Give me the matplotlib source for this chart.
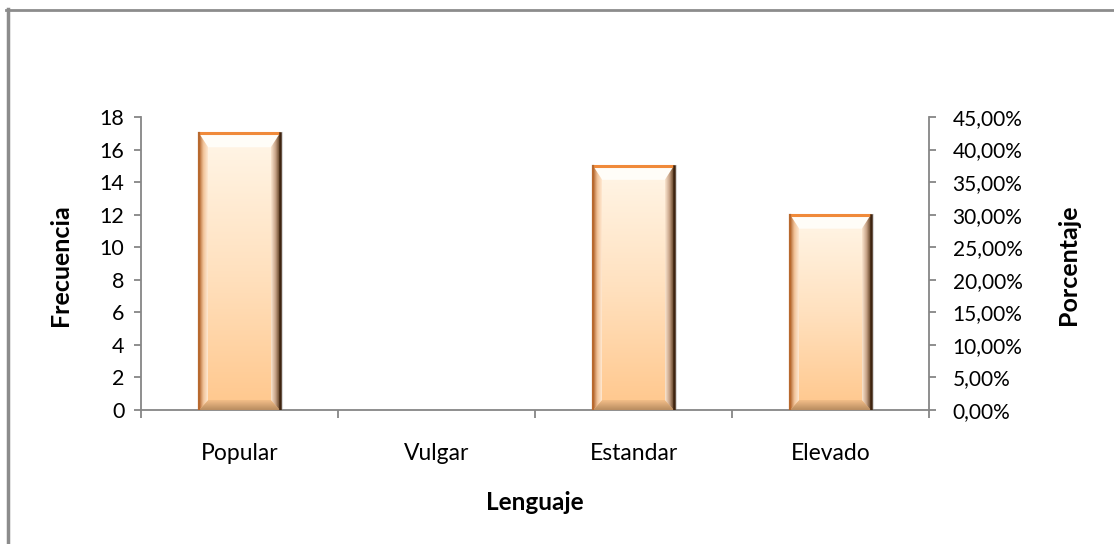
import matplotlib
matplotlib.use("Agg")
import matplotlib.pyplot as plt
import numpy as np
from matplotlib.patches import Polygon
from matplotlib.ticker import FuncFormatter, MultipleLocator
from matplotlib.colors import LinearSegmentedColormap
from matplotlib.lines import Line2D

categories = ["Popular", "Vulgar", "Estandar", "Elevado"]
frecuencia = [17, 0, 15, 12]
porcentaje = [0.425, 0.0, 0.375, 0.30]

plt.rcParams['font.family'] = ['Lato', 'DejaVu Sans']

W, H = 1114, 544
fig = plt.figure(figsize=(W / 100, H / 100), dpi=100)
fig.patch.set_facecolor("white")

# outer frame (left & top only visible)
fig.add_artist(Line2D([7.5 / W, 7.5 / W], [0, 1 - 9 / H], transform=fig.transFigure,
                      color="#8C8C8C", lw=2.5))
fig.add_artist(Line2D([6.3 / W, 1], [1 - 9.5 / H, 1 - 9.5 / H], transform=fig.transFigure,
                      color="#8C8C8C", lw=2))

left, right, bottom, top = 141, 929, 410, 117
ax = fig.add_axes([left / W, 1 - bottom / H, (right - left) / W, (bottom - top) / H])
ax2 = ax.twinx()

x = np.arange(len(categories))
width = 0.41
ax.set_xlim(-0.5, len(categories) - 0.5)
ax.set_ylim(0, 18)
ax2.set_ylim(0, 0.45)

bars = ax.bar(x, frecuencia, width, color="none", edgecolor="none", zorder=2)

# px -> data conversions
px_x = 4.0 / (right - left)   # data units per px in x
px_y = 18.0 / (bottom - top)  # data units per px in y

main_cmap = LinearSegmentedColormap.from_list("m", ["#FFC78C", "#FFE1BF", "#FFF6E8"])
right_cmap = LinearSegmentedColormap.from_list("r", ["#FBE6D0", "#C8A488", "#5A3A1E"])
left_cmap = LinearSegmentedColormap.from_list("l", ["#B0622A", "#F2C49A", "#FFE9D2"])
bot_cmap = LinearSegmentedColormap.from_list("b", ["#B88C60", "#F3BE88"])
grad_v = np.linspace(0, 1, 256).reshape(-1, 1)
grad_h = np.linspace(0, 1, 256).reshape(1, -1)

for rect in bars:
    h = rect.get_height()
    if h <= 0:
        continue
    x0 = rect.get_x()
    x1 = x0 + rect.get_width()
    bx = 9 * px_x
    bt = 14 * px_y
    bb = 10 * px_y
    # main body gradient
    ax.imshow(grad_v, extent=[x0, x1, 0, h], origin="lower", cmap=main_cmap,
              aspect="auto", zorder=2, interpolation="bilinear")
    # top bevel (white)
    ax.add_patch(Polygon([(x0, h), (x1, h), (x1 - bx, h - bt), (x0 + bx, h - bt)],
                         closed=True, facecolor="#FFFDF8", edgecolor="none", zorder=3))
    # bottom bevel
    pb = Polygon([(x0, 0), (x1, 0), (x1 - bx, bb), (x0 + bx, bb)], closed=True,
                 facecolor="none", edgecolor="none", zorder=3)
    ax.add_patch(pb)
    im = ax.imshow(grad_v, extent=[x0, x1, 0, bb], origin="lower", cmap=bot_cmap,
                   aspect="auto", zorder=3, interpolation="bilinear")
    im.set_clip_path(pb)
    # left bevel
    pl = Polygon([(x0, 0), (x0 + bx, bb), (x0 + bx, h - bt), (x0, h)], closed=True,
                 facecolor="none", edgecolor="none", zorder=3)
    ax.add_patch(pl)
    im = ax.imshow(grad_h, extent=[x0, x0 + bx, 0, h], origin="lower", cmap=left_cmap,
                   aspect="auto", zorder=3, interpolation="bilinear")
    im.set_clip_path(pl)
    # right bevel
    pr = Polygon([(x1, 0), (x1 - bx, bb), (x1 - bx, h - bt), (x1, h)], closed=True,
                 facecolor="none", edgecolor="none", zorder=3)
    ax.add_patch(pr)
    im = ax.imshow(grad_h, extent=[x1 - bx, x1, 0, h], origin="lower", cmap=right_cmap,
                   aspect="auto", zorder=3, interpolation="bilinear")
    im.set_clip_path(pr)
    # edges
    ax.plot([x0, x1], [h, h], color="#F08A3A", lw=2.2, zorder=4, solid_capstyle="butt")
    ax.plot([x0, x0], [0, h], color="#B8692E", lw=1.6, zorder=4)
    ax.plot([x1, x1], [0, h], color="#3E2410", lw=1.8, zorder=4)
    ax.plot([x1 + 2 * px_x, x1 + 2 * px_x], [0, h], color="#D8D8D8", lw=1.5, zorder=1)

ax.set_xlim(-0.5, len(categories) - 0.5)
ax.set_ylim(0, 18)

# axes styling
axis_col = "#868686"
for a in (ax, ax2):
    a.spines["top"].set_visible(False)
    for s in ("left", "right", "bottom"):
        a.spines[s].set_color(axis_col)
        a.spines[s].set_linewidth(1.3)
ax.spines["right"].set_visible(False)
ax2.spines["left"].set_visible(False)
ax2.spines["bottom"].set_visible(False)

ax.yaxis.set_major_locator(MultipleLocator(2))
ax2.yaxis.set_major_locator(MultipleLocator(0.05))
ax2.yaxis.set_major_formatter(FuncFormatter(lambda v, p: f"{v * 100:.2f}%".replace(".", ",")))

ax.set_xticks(np.arange(-0.5, len(categories) + 0.5, 1))
ax.set_xticklabels([])
ax.set_xticks(x, minor=True)
ax.set_xticklabels(categories, minor=True)
ax.tick_params(axis="x", which="major", direction="out", length=6, color=axis_col, width=1.3)
ax.tick_params(axis="x", which="minor", length=0, pad=24, labelsize=16.5)
ax.tick_params(axis="y", direction="out", length=5, color=axis_col, width=1.3, labelsize=15.5, pad=7)
ax2.tick_params(axis="y", direction="out", length=5, color=axis_col, width=1.3, labelsize=15, pad=12)

def px2fig(px, py):
    return px / W, 1 - py / H

fig.text(*px2fig(60, 265), "Frecuencia", rotation=90, ha="center", va="center",
         fontsize=18, fontweight="bold")
fig.text(*px2fig(1068, 265), "Porcentaje", rotation=90, ha="center", va="center",
         fontsize=18, fontweight="bold")
fig.text(*px2fig(535, 503), "Lenguaje", ha="center", va="center",
         fontsize=17.5, fontweight="bold")

fig.savefig("out.png", dpi=100, facecolor="white")
